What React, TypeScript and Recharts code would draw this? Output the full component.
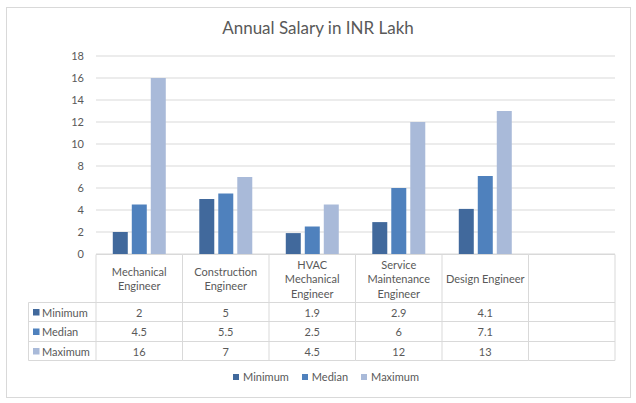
import React from "react";
import { BarChart, Bar, XAxis, YAxis, CartesianGrid } from "recharts";

const categories = [
  "Mechanical Engineer",
  "Construction Engineer",
  "HVAC Mechanical Engineer",
  "Service Maintenance Engineer",
  "Design Engineer",
  "",
];
const categoryLines = [
  ["Mechanical", "Engineer"],
  ["Construction", "Engineer"],
  ["HVAC", "Mechanical", "Engineer"],
  ["Service", "Maintenance", "Engineer"],
  ["Design Engineer"],
  [],
];
const minimum = [2, 5, 1.9, 2.9, 4.1, null];
const median = [4.5, 5.5, 2.5, 6, 7.1, null];
const maximum = [16, 7, 4.5, 12, 13, null];
const yTicks = [0, 2, 4, 6, 8, 10, 12, 14, 16, 18];
const title = "Annual Salary in INR Lakh";

const series = [
  { name: "Minimum", values: minimum, color: "#41699C" },
  { name: "Median", values: median, color: "#4F81BD" },
  { name: "Maximum", values: maximum, color: "#A9BAD9" },
];

const data = categories.map((c, i) => {
  const row: any = { category: c };
  series.forEach((s) => (row[s.name] = s.values[i]));
  return row;
});

const W = 636;
const H = 403;
const M = { top: 56, right: 21, bottom: 0, left: 56 };
const Y_W = 40;
const X_H = 149;
const PLOT_L = M.left + Y_W;
const PLOT_R = W - M.right;
const PLOT_B = H - M.bottom - X_H;
const CELL_W = (PLOT_R - PLOT_L) / categories.length;

const FONT = "Lato, 'Open Sans', sans-serif";
const TXT = "#595959";
const LINE = "#D9D9D9";

const TABLE_TOP = PLOT_B + 0.5;
const HEADER_B = 302.5;
const ROW_LINES = [HEADER_B, 321.5, 341.5, 360.5];
const LEFT_COL = 28.5;

function TableTick(props: any) {
  const { x, payload } = props;
  const i = categories.indexOf(payload.value);
  const left = x - CELL_W / 2;
  const right = x + CELL_W / 2;
  const lines = categoryLines[i] || [];
  const headerMid = (TABLE_TOP + HEADER_B) / 2;
  const lh = 14.5;
  const els: any[] = [];
  // horizontal lines
  [TABLE_TOP, ...ROW_LINES].forEach((yy, k) =>
    els.push(<line key={"h" + k} x1={left} x2={right} y1={yy} y2={yy} stroke={LINE} />)
  );
  els.push(<line key="vl" x1={left} x2={left} y1={TABLE_TOP} y2={ROW_LINES[3]} stroke={LINE} />);
  if (i === categories.length - 1)
    els.push(<line key="vr" x1={right} x2={right} y1={TABLE_TOP} y2={ROW_LINES[3]} stroke={LINE} />);
  lines.forEach((ln, k) =>
    els.push(
      <text
        key={"t" + k}
        x={x}
        y={headerMid + (k - (lines.length - 1) / 2) * lh}
        textAnchor="middle"
        dominantBaseline="central"
        fill={TXT}
        fontSize={11}
        fontFamily={FONT}
      >
        {ln}
      </text>
    )
  );
  series.forEach((s, r) => {
    const v = s.values[i];
    const cy = (ROW_LINES[r] + ROW_LINES[r + 1]) / 2;
    if (v !== null && v !== undefined)
      els.push(
        <text
          key={"v" + r}
          x={x}
          y={cy}
          textAnchor="middle"
          dominantBaseline="central"
          fill={TXT}
          fontSize={11}
          fontFamily={FONT}
        >
          {v}
        </text>
      );
    if (i === 0) {
      els.push(
        <line key={"lh" + r} x1={LEFT_COL} x2={left} y1={ROW_LINES[r]} y2={ROW_LINES[r]} stroke={LINE} />
      );
      els.push(<rect key={"ls" + r} x={33} y={cy - 3} width={6.5} height={6.5} fill={s.color} />);
      els.push(
        <text
          key={"ln" + r}
          x={42}
          y={cy}
          dominantBaseline="central"
          fill={TXT}
          fontSize={11}
          fontFamily={FONT}
        >
          {s.name}
        </text>
      );
    }
  });
  if (i === 0) {
    els.push(<line key="lb" x1={LEFT_COL} x2={left} y1={ROW_LINES[3]} y2={ROW_LINES[3]} stroke={LINE} />);
    els.push(<line key="lv" x1={LEFT_COL} x2={LEFT_COL} y1={ROW_LINES[0]} y2={ROW_LINES[3]} stroke={LINE} />);
  }
  return <g>{els}</g>;
}

export default function App() {
  return (
    <div style={{ position: "absolute", left: 0, top: 0, width: W, height: H, background: "#fff" }}>
      <div
        style={{
          position: "absolute",
          left: 6,
          top: 7,
          width: 623,
          height: 389,
          border: `1px solid ${LINE}`,
        }}
      />
      <div
        style={{
          position: "absolute",
          left: 0,
          width: W,
          top: 17,
          textAlign: "center",
          fontFamily: FONT,
          fontSize: 17,
          color: TXT,
        }}
      >
        {title}
      </div>
      <div style={{ position: "absolute", left: 0, top: 0 }}>
        <BarChart
          width={W}
          height={H}
          data={data}
          margin={M}
          barCategoryGap="19.4%"
          barGap={4}
        >
          <CartesianGrid vertical={false} stroke={LINE} />
          <XAxis
            dataKey="category"
            height={X_H}
            axisLine={false}
            tickLine={false}
            interval={0}
            tick={<TableTick />}
          />
          <YAxis
            width={Y_W}
            domain={[0, 18]}
            ticks={yTicks}
            axisLine={false}
            tickLine={false}
            tickMargin={6}
            tick={{ fill: TXT, fontSize: 11, fontFamily: FONT }}
            interval={0}
          />
          {series.map((s) => (
            <Bar key={s.name} dataKey={s.name} fill={s.color} isAnimationActive={false} />
          ))}
        </BarChart>
      </div>
      <div
        style={{
          position: "absolute",
          left: 0,
          width: W,
          top: 370,
          display: "flex",
          justifyContent: "center",
          gap: 13,
          fontFamily: FONT,
          fontSize: 11,
          color: TXT,
          paddingLeft: 8,
        }}
      >
        {series.map((s) => (
          <div key={s.name} style={{ display: "flex", alignItems: "center", gap: 4 }}>
            <span style={{ display: "inline-block", width: 6, height: 6, background: s.color }} />
            <span>{s.name}</span>
          </div>
        ))}
      </div>
    </div>
  );
}
